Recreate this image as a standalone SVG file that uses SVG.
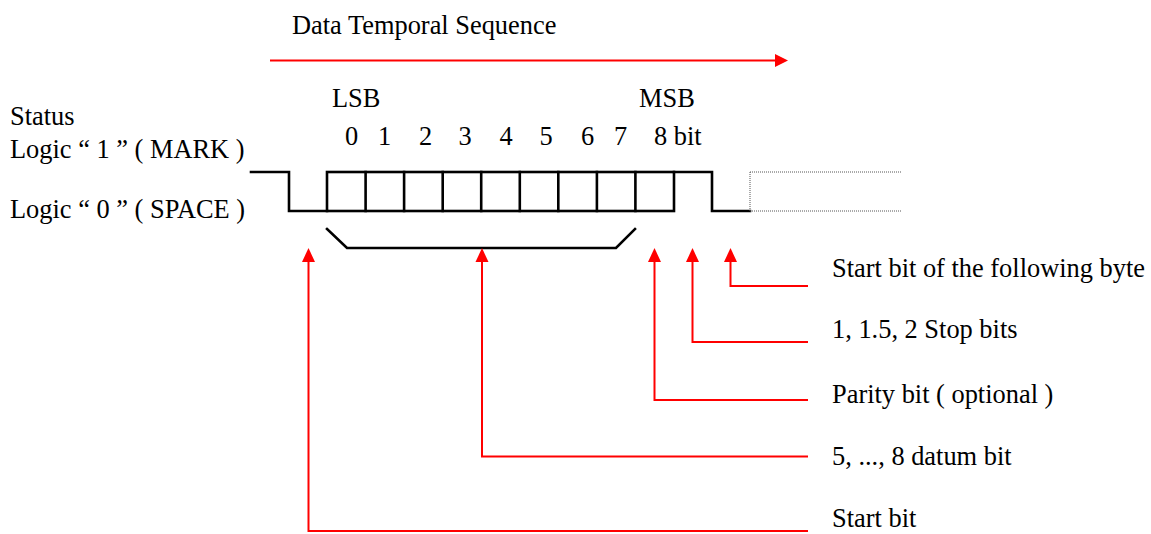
<svg xmlns="http://www.w3.org/2000/svg" width="1151" height="534" viewBox="0 0 1151 534">
  <style>
    text { font-family: "Liberation Serif", "Times New Roman", serif; font-size: 26.4px; fill: #000; }
    .wave { fill: none; stroke: #000; stroke-width: 2.6; stroke-linejoin: miter; stroke-linecap: square; }
    .idle { fill: none; stroke: #555; stroke-width: 1; stroke-dasharray: 1 1; }
    .lead { fill: none; stroke: #ff0000; stroke-width: 2; }
    .head { fill: #ff0000; stroke: none; }
  </style>

  <!-- time axis -->
  <g id="time-axis">
    <text x="292" y="34">Data Temporal Sequence</text>
    <line class="lead" x1="270" y1="60.5" x2="776" y2="60.5"/>
    <polygon class="head" points="775,54 788,60.5 775,67"/>
  </g>

  <!-- level legend -->
  <g id="legend">
    <text x="10" y="125">Status</text>
    <text x="10" y="158">Logic “ 1 ” ( MARK )</text>
    <text x="10" y="218">Logic “ 0 ” ( SPACE )</text>
  </g>

  <!-- bit index header -->
  <g id="bit-labels">
    <text x="332" y="107">LSB</text>
    <text x="639" y="107">MSB</text>
    <text x="345" y="145">0</text>
    <text x="378" y="145">1</text>
    <text x="419" y="145">2</text>
    <text x="458.5" y="145">3</text>
    <text x="499.5" y="145">4</text>
    <text x="539.5" y="145">5</text>
    <text x="581" y="145">6</text>
    <text x="614" y="145">7</text>
    <text x="654" y="145">8 bit</text>
  </g>

  <!-- character frame waveform -->
  <g id="frame">
    <polyline class="wave" points="251,172 289,172 289,211 327,211"/>
    <rect class="wave" x="327" y="172" width="347" height="39"/>
    <path class="wave" d="M365.6,172V211M404.1,172V211M442.7,172V211M481.2,172V211M519.8,172V211M558.3,172V211M596.9,172V211M635.4,172V211"/>
    <polyline class="wave" points="674,172 712,172 712,211 750,211"/>
    <path class="idle" d="M750,172H902M750,211H902M750,172V211"/>
    <polyline class="wave" points="327,229 347,248 616,248 635,229"/>
  </g>

  <!-- field captions -->
  <g id="label-next-start"><text x="832" y="277">Start bit of the following byte</text></g>
  <g id="label-stop"><text x="832" y="338">1, 1.5, 2 Stop bits</text></g>
  <g id="label-parity"><text x="832" y="403">Parity bit ( optional )</text></g>
  <g id="label-data"><text x="832" y="465">5, ..., 8 datum bit</text></g>
  <g id="label-start"><text x="832" y="527">Start bit</text></g>

  <!-- callout leaders -->
  <g id="connectors">
    <polyline class="lead" points="308.5,260 308.5,531 808,531"/>
    <polygon class="head" points="302,262 308.5,248 315,262"/>
    <polyline class="lead" points="482,260 482,456.5 808,456.5"/>
    <polygon class="head" points="475.5,262 482,248 488.5,262"/>
    <polyline class="lead" points="654.5,260 654.5,400 808,400"/>
    <polygon class="head" points="648,262 654.5,248 661,262"/>
    <polyline class="lead" points="692.5,260 692.5,342 808,342"/>
    <polygon class="head" points="686,262 692.5,248 699,262"/>
    <polyline class="lead" points="730.5,260 730.5,286 808,286"/>
    <polygon class="head" points="724,262 730.5,248 737,262"/>
  </g>
</svg>
